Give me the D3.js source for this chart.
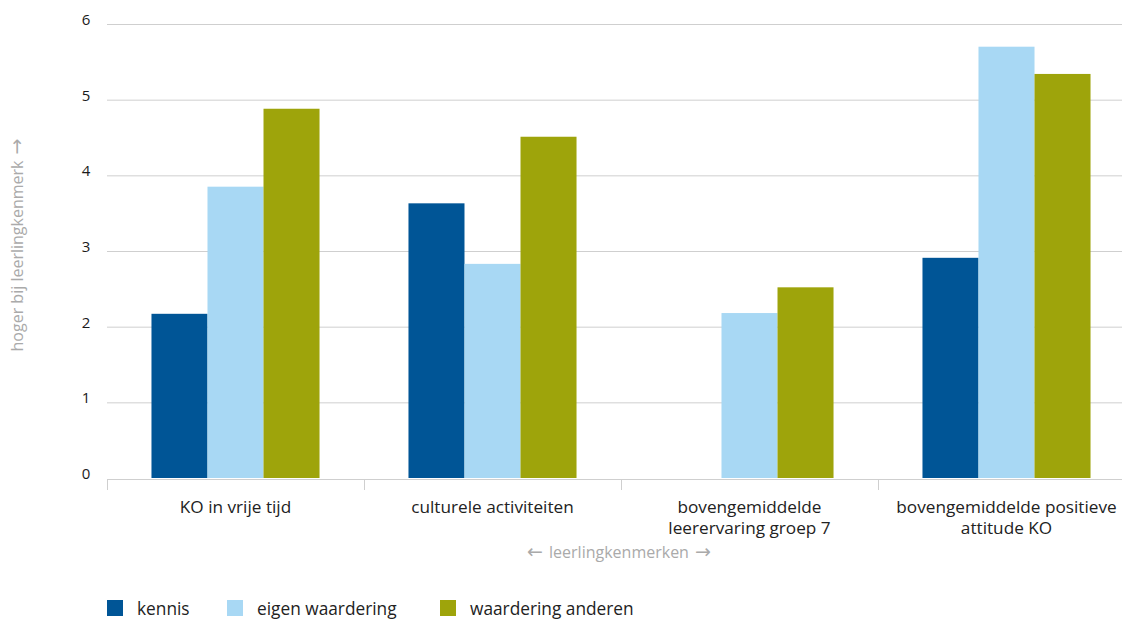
<!DOCTYPE html>
<html><head><meta charset="utf-8">
<script src="https://cdn.jsdelivr.net/npm/d3@7"></script>
<style>body{margin:0;background:#fff;}svg{display:block;font-family:"Open Sans",sans-serif;}.arr{font-family:"DejaVu Sans",sans-serif;font-size:19px;}</style>
</head><body><svg id="c" width="1122" height="620"></svg>
<script>
const categories = [["KO in vrije tijd"],["culturele activiteiten"],["bovengemiddelde","leerervaring groep 7"],["bovengemiddelde positieve","attitude KO"]];
const seriesNames = ["kennis","eigen waardering","waardering anderen"];
const kennis = [2.17, 3.63, 0, 2.91];
const eigenWaardering = [3.85, 2.83, 2.18, 5.70];
const waarderingAnderen = [4.88, 4.51, 2.52, 5.34];
const yTicks = [0,1,2,3,4,5,6];
const colors = ["#005596","#a8d8f4","#9ea40b"];
const values = [kennis, eigenWaardering, waarderingAnderen];

const svg = d3.select("#c");
const y = d3.scaleLinear().domain([0,6]).range([478,24]);
const x0 = d3.scaleBand().domain(d3.range(categories.length)).range([107,1135]).padding(0);
const x1 = d3.scaleBand().domain(d3.range(seriesNames.length)).range([0,x0.bandwidth()]).paddingInner(0).paddingOuter(0.794);

// gridlines
svg.append("g").selectAll("line").data(yTicks.filter(d=>d>0)).join("line")
  .attr("x1",107).attr("x2",1122).attr("y1",d=>y(d)+0.5).attr("y2",d=>y(d)+0.5)
  .attr("stroke","#cfcfcf").attr("stroke-width",1);
svg.append("g").selectAll("text").data(yTicks).join("text")
  .attr("x",86).attr("y",d=>y(d)+1).attr("text-anchor","middle")
  .attr("font-size",15).attr("fill","#1a1a1a").text(d=>d);

// bars
const g = svg.append("g");
categories.forEach((c,i)=>{
  values.forEach((arr,s)=>{
    if(arr[i]>0) g.append("rect")
      .attr("x",x0(i)+x1(s)).attr("width",x1.bandwidth())
      .attr("y",y(arr[i])).attr("height",y(0)-y(arr[i]))
      .attr("fill",colors[s]);
  });
});

// x axis
svg.append("line").attr("x1",107).attr("x2",1122).attr("y1",479.5).attr("y2",479.5).attr("stroke","#cfcfcf");
svg.append("g").selectAll("line").data(d3.range(categories.length)).join("line")
  .attr("x1",d=>x0(d)+0.5).attr("x2",d=>x0(d)+0.5).attr("y1",479).attr("y2",490).attr("stroke","#cfcfcf");
const lab = svg.append("g").selectAll("text").data(categories).join("text")
  .attr("x",(d,i)=>x0(i)+x0.bandwidth()/2).attr("y",513).attr("text-anchor","middle")
  .attr("font-size",17.2).attr("fill","#222");
lab.selectAll("tspan").data(d=>d).join("tspan")
  .attr("x",function(){return this.parentNode.getAttribute("x");})
  .attr("dy",(d,j)=>j===0?0:21).text(d=>d);

const xt = svg.append("text").attr("x",619).attr("y",558).attr("text-anchor","middle")
  .attr("font-size",16).attr("fill","#aaa");
xt.append("tspan").attr("class","arr").text("← ");
xt.append("tspan").text("leerlingkenmerken");
xt.append("tspan").attr("class","arr").text(" →");
const yt = svg.append("text").attr("transform","translate(23,245) rotate(-90)").attr("text-anchor","middle")
  .attr("font-size",16).attr("fill","#aaa");
yt.append("tspan").text("hoger bij leerlingkenmerk");
yt.append("tspan").attr("class","arr").text(" →");

// legend
const legX = [107,227,440];
const leg = svg.append("g").selectAll("g").data(seriesNames).join("g")
  .attr("transform",(d,i)=>`translate(${legX[i]},600)`);
leg.append("rect").attr("width",16).attr("height",16).attr("fill",(d,i)=>colors[i]);
leg.append("text").attr("x",30).attr("y",15).attr("font-size",17.3).attr("fill","#222").text(d=>d);
</script></body></html>
